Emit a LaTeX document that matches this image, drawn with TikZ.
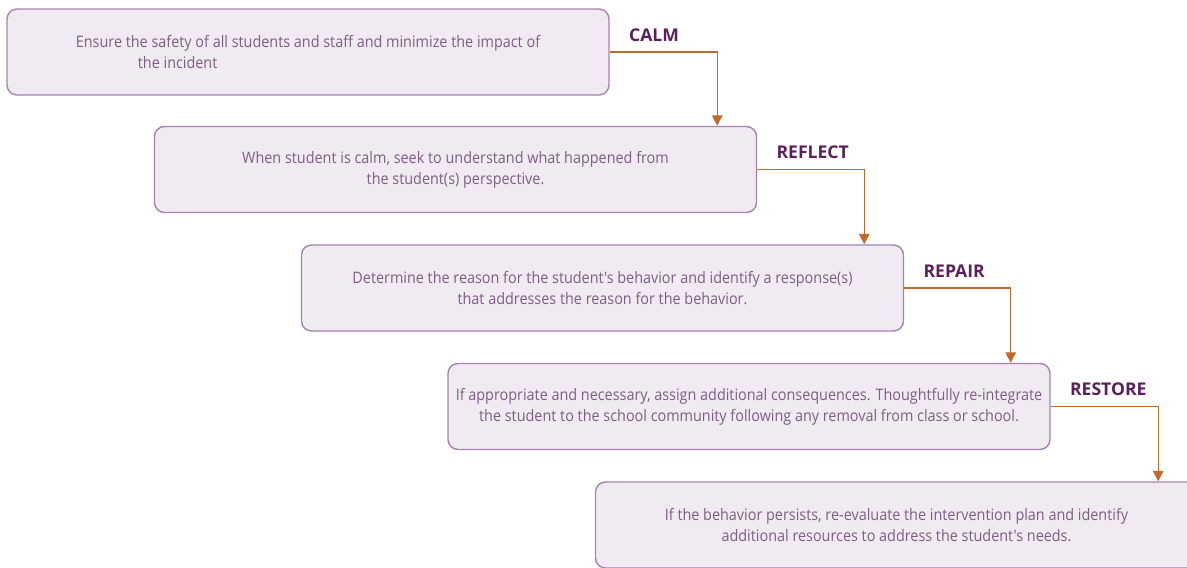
\documentclass[tikz,border=0pt]{standalone}
\usepackage{fontspec}
\setmainfont{Open Sans}
\newfontfamily\narrowfont[FakeStretch=0.91]{Open Sans}
\usetikzlibrary{positioning,arrows.meta}
\definecolor{boxfill}{HTML}{F2EAF2}
\definecolor{boxline}{HTML}{A683AC}
\definecolor{boxtext}{HTML}{7D5E84}
\definecolor{steptext}{HTML}{5A1F5C}
\definecolor{flowline}{HTML}{C2692E}
\begin{document}
\begin{tikzpicture}[
  stepbox/.style={draw=boxline,line width=0.8pt,fill=boxfill,rounded corners=0.2cm,
    minimum width=12.04cm,minimum height=1.72cm,text=boxtext,align=center,
    font=\narrowfont\fontsize{9}{12}\selectfont},
  steplabel/.style={text=steptext,anchor=base west,inner sep=0pt,
    font=\fontsize{10}{12}\selectfont\bfseries},
  flow/.style={draw=flowline,line width=0.8pt,-{Triangle[length=6pt,width=6pt]}}]
\useasboundingbox (0,0) rectangle (23.74,-11.34);
\node[stepbox,align=left] (calm) at (6.16,-1.04) {Ensure the safety of all students and staff and minimize the impact of\\\hspace*{1.24cm}the incident};
\node[stepbox] (reflect) at (9.11,-3.39) {When student is calm, seek to understand what happened from\\the student(s) perspective.};
\node[stepbox] (repair) at (12.05,-5.76) {Determine the reason for the student's behavior and identify a response(s)\\that addresses the reason for the behavior.};
\node[stepbox] (restore) at (14.98,-8.13) {If appropriate and necessary, assign additional consequences. Thoughtfully re-integrate\\the student to the school community following any removal from class or school.};
\node[stepbox] (persist) at (17.93,-10.5) {If the behavior persists, re-evaluate the intervention plan and identify\\additional resources to address the student's needs.};

\node[steplabel] (lcalm) at ([xshift=0.38cm,yshift=0.22cm]calm.east) {CALM};
\node[steplabel] (lreflect) at ([xshift=0.38cm,yshift=0.22cm]reflect.east) {REFLECT};
\node[steplabel] (lrepair) at ([xshift=0.38cm,yshift=0.22cm]repair.east) {REPAIR};
\node[steplabel] (lrestore) at ([xshift=0.38cm,yshift=0.22cm]restore.east) {RESTORE};

\draw[flow] (calm.east) -| ([xshift=-0.8cm]reflect.north east);
\draw[flow] (reflect.east) -| ([xshift=-0.8cm]repair.north east);
\draw[flow] (repair.east) -| ([xshift=-0.8cm]restore.north east);
\draw[flow] (restore.east) -| ([xshift=-0.8cm]persist.north east);
\end{tikzpicture}
\end{document}
